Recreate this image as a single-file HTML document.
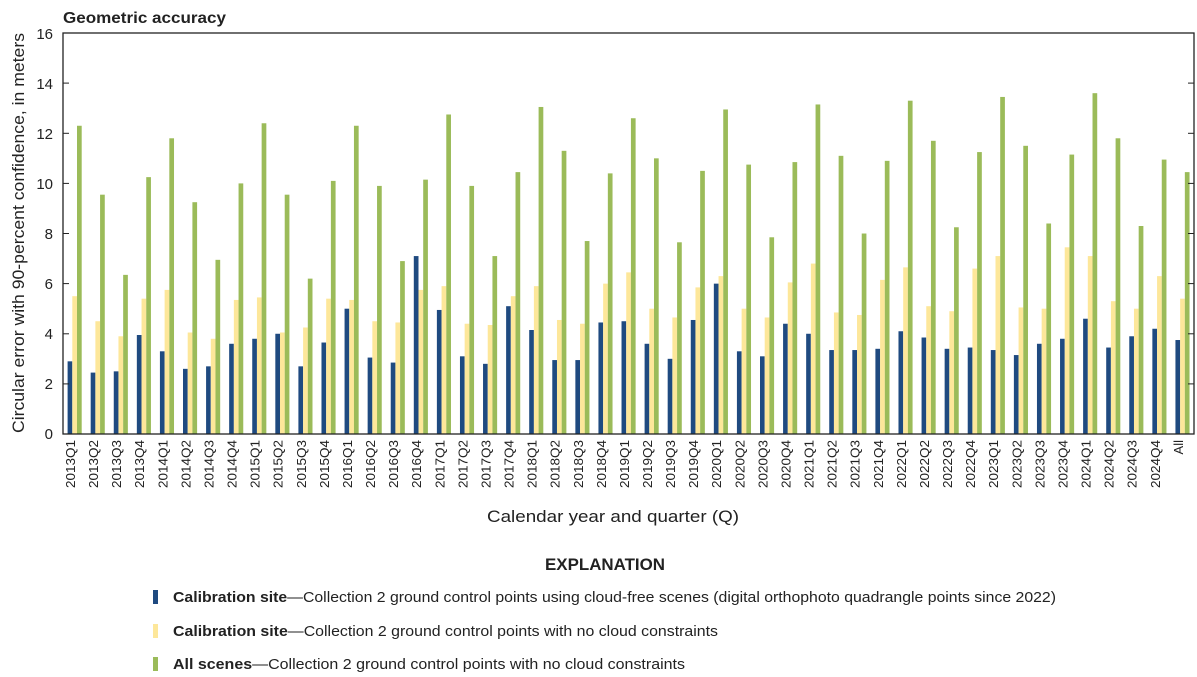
<!DOCTYPE html>
<html><head><meta charset="utf-8"><style>
body{margin:0;background:#fff;}
svg{display:block;font-family:"Liberation Sans",sans-serif;}
</style></head><body>
<svg id="s" width="1197" height="677" viewBox="0 0 1197 677" xmlns="http://www.w3.org/2000/svg">
<rect width="1197" height="677" fill="#fff"/>
<text x="63" y="23" font-size="16" font-weight="bold" fill="#222" textLength="163" lengthAdjust="spacingAndGlyphs">Geometric accuracy</text>
<g id="bars"></g>
<rect x="63" y="33" width="1131" height="401" fill="none" stroke="#222" stroke-width="1.3"/>
<g stroke="#222" stroke-width="1">
<line x1="63" y1="83.1" x2="69" y2="83.1"/><line x1="63" y1="133.3" x2="69" y2="133.3"/><line x1="63" y1="183.4" x2="69" y2="183.4"/><line x1="63" y1="233.5" x2="69" y2="233.5"/><line x1="63" y1="283.6" x2="69" y2="283.6"/><line x1="63" y1="333.8" x2="69" y2="333.8"/><line x1="63" y1="383.9" x2="69" y2="383.9"/>
<line x1="1188" y1="83.1" x2="1194" y2="83.1"/><line x1="1188" y1="133.3" x2="1194" y2="133.3"/><line x1="1188" y1="183.4" x2="1194" y2="183.4"/><line x1="1188" y1="233.5" x2="1194" y2="233.5"/><line x1="1188" y1="283.6" x2="1194" y2="283.6"/><line x1="1188" y1="333.8" x2="1194" y2="333.8"/><line x1="1188" y1="383.9" x2="1194" y2="383.9"/>
</g>
<g font-size="15" fill="#222" text-anchor="end">
<text x="53" y="39">16</text><text x="53" y="89">14</text><text x="53" y="139">12</text><text x="53" y="189">10</text><text x="53" y="239">8</text><text x="53" y="289">6</text><text x="53" y="339">4</text><text x="53" y="389">2</text><text x="53" y="439">0</text>
</g>
<text transform="translate(24,233) rotate(-90)" font-size="17" fill="#222" text-anchor="middle" textLength="400" lengthAdjust="spacingAndGlyphs">Circular error with 90-percent confidence, in meters</text>
<g font-size="13" fill="#222" text-anchor="end">
<text transform="translate(75,440) rotate(-90)" textLength="48" lengthAdjust="spacingAndGlyphs">2013Q1</text>
<text transform="translate(98.1,440) rotate(-90)" textLength="48" lengthAdjust="spacingAndGlyphs">2013Q2</text>
<text transform="translate(121.2,440) rotate(-90)" textLength="48" lengthAdjust="spacingAndGlyphs">2013Q3</text>
<text transform="translate(144.2,440) rotate(-90)" textLength="48" lengthAdjust="spacingAndGlyphs">2013Q4</text>
<text transform="translate(167.3,440) rotate(-90)" textLength="48" lengthAdjust="spacingAndGlyphs">2014Q1</text>
<text transform="translate(190.4,440) rotate(-90)" textLength="48" lengthAdjust="spacingAndGlyphs">2014Q2</text>
<text transform="translate(213.5,440) rotate(-90)" textLength="48" lengthAdjust="spacingAndGlyphs">2014Q3</text>
<text transform="translate(236.6,440) rotate(-90)" textLength="48" lengthAdjust="spacingAndGlyphs">2014Q4</text>
<text transform="translate(259.6,440) rotate(-90)" textLength="48" lengthAdjust="spacingAndGlyphs">2015Q1</text>
<text transform="translate(282.7,440) rotate(-90)" textLength="48" lengthAdjust="spacingAndGlyphs">2015Q2</text>
<text transform="translate(305.8,440) rotate(-90)" textLength="48" lengthAdjust="spacingAndGlyphs">2015Q3</text>
<text transform="translate(328.9,440) rotate(-90)" textLength="48" lengthAdjust="spacingAndGlyphs">2015Q4</text>
<text transform="translate(352,440) rotate(-90)" textLength="48" lengthAdjust="spacingAndGlyphs">2016Q1</text>
<text transform="translate(375,440) rotate(-90)" textLength="48" lengthAdjust="spacingAndGlyphs">2016Q2</text>
<text transform="translate(398.1,440) rotate(-90)" textLength="48" lengthAdjust="spacingAndGlyphs">2016Q3</text>
<text transform="translate(421.2,440) rotate(-90)" textLength="48" lengthAdjust="spacingAndGlyphs">2016Q4</text>
<text transform="translate(444.3,440) rotate(-90)" textLength="48" lengthAdjust="spacingAndGlyphs">2017Q1</text>
<text transform="translate(467.4,440) rotate(-90)" textLength="48" lengthAdjust="spacingAndGlyphs">2017Q2</text>
<text transform="translate(490.4,440) rotate(-90)" textLength="48" lengthAdjust="spacingAndGlyphs">2017Q3</text>
<text transform="translate(513.5,440) rotate(-90)" textLength="48" lengthAdjust="spacingAndGlyphs">2017Q4</text>
<text transform="translate(536.6,440) rotate(-90)" textLength="48" lengthAdjust="spacingAndGlyphs">2018Q1</text>
<text transform="translate(559.7,440) rotate(-90)" textLength="48" lengthAdjust="spacingAndGlyphs">2018Q2</text>
<text transform="translate(582.8,440) rotate(-90)" textLength="48" lengthAdjust="spacingAndGlyphs">2018Q3</text>
<text transform="translate(605.8,440) rotate(-90)" textLength="48" lengthAdjust="spacingAndGlyphs">2018Q4</text>
<text transform="translate(628.9,440) rotate(-90)" textLength="48" lengthAdjust="spacingAndGlyphs">2019Q1</text>
<text transform="translate(652,440) rotate(-90)" textLength="48" lengthAdjust="spacingAndGlyphs">2019Q2</text>
<text transform="translate(675.1,440) rotate(-90)" textLength="48" lengthAdjust="spacingAndGlyphs">2019Q3</text>
<text transform="translate(698.2,440) rotate(-90)" textLength="48" lengthAdjust="spacingAndGlyphs">2019Q4</text>
<text transform="translate(721.2,440) rotate(-90)" textLength="48" lengthAdjust="spacingAndGlyphs">2020Q1</text>
<text transform="translate(744.3,440) rotate(-90)" textLength="48" lengthAdjust="spacingAndGlyphs">2020Q2</text>
<text transform="translate(767.4,440) rotate(-90)" textLength="48" lengthAdjust="spacingAndGlyphs">2020Q3</text>
<text transform="translate(790.5,440) rotate(-90)" textLength="48" lengthAdjust="spacingAndGlyphs">2020Q4</text>
<text transform="translate(813.6,440) rotate(-90)" textLength="48" lengthAdjust="spacingAndGlyphs">2021Q1</text>
<text transform="translate(836.6,440) rotate(-90)" textLength="48" lengthAdjust="spacingAndGlyphs">2021Q2</text>
<text transform="translate(859.7,440) rotate(-90)" textLength="48" lengthAdjust="spacingAndGlyphs">2021Q3</text>
<text transform="translate(882.8,440) rotate(-90)" textLength="48" lengthAdjust="spacingAndGlyphs">2021Q4</text>
<text transform="translate(905.9,440) rotate(-90)" textLength="48" lengthAdjust="spacingAndGlyphs">2022Q1</text>
<text transform="translate(929,440) rotate(-90)" textLength="48" lengthAdjust="spacingAndGlyphs">2022Q2</text>
<text transform="translate(952,440) rotate(-90)" textLength="48" lengthAdjust="spacingAndGlyphs">2022Q3</text>
<text transform="translate(975.1,440) rotate(-90)" textLength="48" lengthAdjust="spacingAndGlyphs">2022Q4</text>
<text transform="translate(998.2,440) rotate(-90)" textLength="48" lengthAdjust="spacingAndGlyphs">2023Q1</text>
<text transform="translate(1021.3,440) rotate(-90)" textLength="48" lengthAdjust="spacingAndGlyphs">2023Q2</text>
<text transform="translate(1044.4,440) rotate(-90)" textLength="48" lengthAdjust="spacingAndGlyphs">2023Q3</text>
<text transform="translate(1067.4,440) rotate(-90)" textLength="48" lengthAdjust="spacingAndGlyphs">2023Q4</text>
<text transform="translate(1090.5,440) rotate(-90)" textLength="48" lengthAdjust="spacingAndGlyphs">2024Q1</text>
<text transform="translate(1113.6,440) rotate(-90)" textLength="48" lengthAdjust="spacingAndGlyphs">2024Q2</text>
<text transform="translate(1136.7,440) rotate(-90)" textLength="48" lengthAdjust="spacingAndGlyphs">2024Q3</text>
<text transform="translate(1159.8,440) rotate(-90)" textLength="48" lengthAdjust="spacingAndGlyphs">2024Q4</text>
<text transform="translate(1182.8,440) rotate(-90)">All</text>
</g>
<text x="613" y="522" font-size="17" fill="#222" text-anchor="middle" textLength="252" lengthAdjust="spacingAndGlyphs">Calendar year and quarter (Q)</text>
<text x="605" y="570" font-size="17" font-weight="bold" fill="#222" text-anchor="middle" textLength="120" lengthAdjust="spacingAndGlyphs">EXPLANATION</text>
<rect x="153" y="590" width="5" height="14" fill="#1f4a80"/>
<rect x="153" y="624" width="5" height="14" fill="#fde79a"/>
<rect x="153" y="657" width="5" height="14" fill="#9bbb59"/>
<g font-size="15" fill="#222">
<text x="173" y="602" textLength="883" lengthAdjust="spacingAndGlyphs"><tspan font-weight="bold">Calibration site</tspan>—Collection 2 ground control points using cloud-free scenes (digital orthophoto quadrangle points since 2022)</text>
<text x="173" y="636" textLength="545" lengthAdjust="spacingAndGlyphs"><tspan font-weight="bold">Calibration site</tspan>—Collection 2 ground control points with no cloud constraints</text>
<text x="173" y="669" textLength="512" lengthAdjust="spacingAndGlyphs"><tspan font-weight="bold">All scenes</tspan>—Collection 2 ground control points with no cloud constraints</text>
</g>
</svg>
<script>
var d=[[2.9,5.5,12.3],[2.45,4.5,9.55],[2.5,3.9,6.35],[3.95,5.4,10.25],[3.3,5.75,11.8],[2.6,4.05,9.25],[2.7,3.8,6.95],[3.6,5.35,10.0],[3.8,5.45,12.4],[4.0,4.05,9.55],[2.7,4.25,6.2],[3.65,5.4,10.1],[5.0,5.35,12.3],[3.05,4.5,9.9],[2.85,4.45,6.9],[7.1,5.75,10.15],[4.95,5.9,12.75],[3.1,4.4,9.9],[2.8,4.35,7.1],[5.1,5.5,10.45],[4.15,5.9,13.05],[2.95,4.55,11.3],[2.95,4.4,7.7],[4.45,6.0,10.4],[4.5,6.45,12.6],[3.6,5.0,11.0],[3.0,4.65,7.65],[4.55,5.85,10.5],[6.0,6.3,12.95],[3.3,5.0,10.75],[3.1,4.65,7.85],[4.4,6.05,10.85],[4.0,6.8,13.15],[3.35,4.85,11.1],[3.35,4.75,8.0],[3.4,6.15,10.9],[4.1,6.65,13.3],[3.85,5.1,11.7],[3.4,4.9,8.25],[3.45,6.6,11.25],[3.35,7.1,13.45],[3.15,5.05,11.5],[3.6,5.0,8.4],[3.8,7.45,11.15],[4.6,7.1,13.6],[3.45,5.3,11.8],[3.9,5.0,8.3],[4.2,6.3,10.95],[3.75,5.4,10.45]];
var c=['#1f4a80','#fde79a','#9bbb59'],g=document.getElementById('bars'),h='';
for(var i=0;i<d.length;i++){for(var k=0;k<3;k++){var x=63+23.08*i+4.6+4.7*k,v=d[i][k],y=434-v*25.06;h+='<rect x="'+x.toFixed(2)+'" y="'+y.toFixed(2)+'" width="4.7" height="'+(v*25.06).toFixed(2)+'" fill="'+c[k]+'"/>';}}
g.innerHTML=h;
</script>
</body></html>
